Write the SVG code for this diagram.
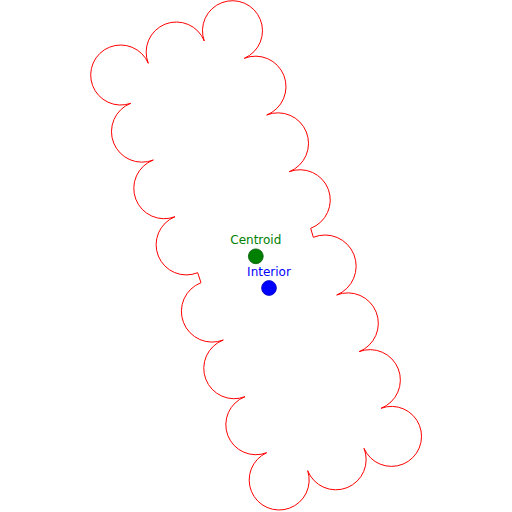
<svg xmlns="http://www.w3.org/2000/svg" width="512" height="512" viewBox="0 0 512 512">
<style>
.outline{fill:none;stroke:#ff0000;stroke-width:1;stroke-linejoin:miter}
.lbl{font-family:"DejaVu Sans",sans-serif;font-size:12px;text-anchor:middle}
</style>
<rect width="512" height="512" fill="#ffffff"/>
<g id="polygon">
<path class="outline" d="M 204.3 41 A 30 30 0 1 1 244.3 58.3 A 30 30 0 1 1 266.7 115 A 30 30 0 1 1 289.3 171.7 A 30 30 0 1 1 310.7 228.3 L 313.3 237.3 A 30 30 0 1 1 336.7 295 A 30 30 0 1 1 359 351.7 A 30 30 0 1 1 381 408.3 A 30 30 0 1 1 364 448.3 A 30 30 0 1 1 307.7 470.7 A 30 30 0 1 1 266.7 452.7 A 30 30 0 1 1 245 396.7 A 30 30 0 1 1 223.3 340 A 30 30 0 1 1 201 282.7 L 197.7 272.7 A 30 30 0 1 1 175 216.7 A 30 30 0 1 1 153.3 160 A 30 30 0 1 1 130.7 103.3 A 30 30 0 1 1 148.3 63.3 A 30 30 0 1 1 204.3 41 Z"/>
</g>
<g id="centroid">
<circle cx="255.8" cy="256.3" r="7.4" fill="#008000" stroke="#005a00" stroke-width="0.8"/>
<text class="lbl" x="255.8" y="244" fill="#008000">Centroid</text>
</g>
<g id="interior">
<circle cx="269" cy="288" r="7.4" fill="#0000ff" stroke="#0000c0" stroke-width="0.8"/>
<text class="lbl" x="269" y="276" fill="#0000ff">Interior</text>
</g>
</svg>
